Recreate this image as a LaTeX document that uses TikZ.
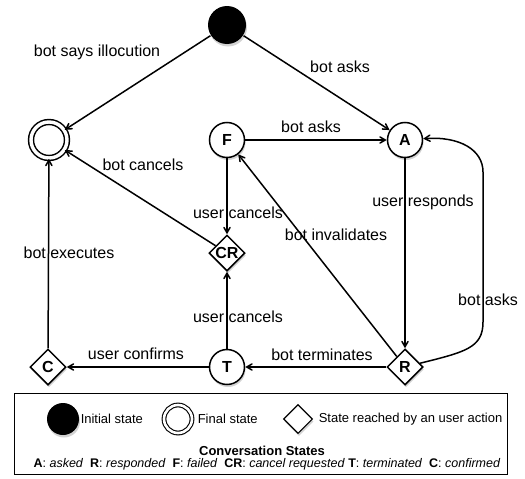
\documentclass[tikz,border=0pt]{standalone}
\usepackage{fontspec}
\setmainfont{Liberation Sans}
\usetikzlibrary{arrows,shapes.geometric,shadows}

\begin{document}
\begin{tikzpicture}[x=1pt,y=-1pt,>=angle 60,line width=1.5pt,
  shdw/.style={drop shadow={shadow xshift=1pt,shadow yshift=-2.5pt,opacity=.35}},
  state/.style={circle,draw,fill=white,minimum size=35pt,inner sep=0pt,shdw,
    font=\fontsize{16}{16}\selectfont\bfseries},
  useract/.style={diamond,draw,fill=white,minimum size=36pt,inner sep=0pt,shdw,
    font=\fontsize{16}{16}\selectfont\bfseries},
  initst/.style={circle,fill=black,minimum size=38pt,inner sep=0pt,shdw},
  finalst/.style={circle,draw,double,double distance=3.4pt,fill=white,minimum size=36pt,inner sep=0pt,shdw},
  lbl/.style={font=\fontsize{16}{16}\selectfont,inner sep=0pt},
  legtxt/.style={font=\fontsize{13}{13}\selectfont,inner sep=0pt,anchor=west}]

\useasboundingbox (0,0) rectangle (525,479);

% states
\node[initst] (init) at (227,25) {};
\node[finalst] (fin) at (49,140) {};
\node[state] (F) at (227,140) {F};
\node[state] (A) at (405,140) {A};
\node[useract] (CR) at (227,253) {CR};
\node[useract] (C) at (48,367) {C};
\node[state] (T) at (227,367) {T};
\node[useract] (R) at (405,367) {R};

\coordinate (bend1) at (483,322);
\coordinate (bend2) at (483,172);

% transitions
\draw[->] (init) -- (fin);
\draw[->] (init) -- (A);
\draw[->] (F) -- (A);
\draw[->] (F) -- (CR);
\draw[->] (CR) -- (fin);
\draw[->] (A) -- (R);
\draw[->] (R) -- (F);
\draw[->] (R) -- (T);
\draw[->] (T) -- (CR);
\draw[->] (T) -- (C);
\draw[->] (C) -- (fin);
\draw[->] (R) .. controls (465,352) and (483,348) .. (bend1) -- (bend2)
  .. controls (483,150) and (460,136) .. (A);

% labels
\node[lbl] (l1) at (97,52) {bot says illocution};
\node[lbl] (l2) at (340,67) {bot asks};
\node[lbl] (l3) at (311,127) {bot asks};
\node[lbl] (l4) at (143,165) {bot cancels};
\node[lbl] (l5) at (238,213) {user cancels};
\node[lbl] (l6) at (336,235) {bot invalidates};
\node[lbl] (l7) at (423,202) {user responds};
\node[lbl] (l8) at (69,253) {bot executes};
\node[lbl] (l9) at (238,317) {user cancels};
\node[lbl] (l10) at (488,300) {bot asks};
\node[lbl] (l11) at (136,354) {user confirms};
\node[lbl] (l12) at (322,355) {bot terminates};

% legend
\draw[line width=.7pt,fill=white] (14,393) rectangle (507,474);
\node[initst,minimum size=32pt] (linit) at (63,419) {};
\node[legtxt] (tinit) at (80,419) {Initial state};
\node[finalst,minimum size=28pt,double distance=2.6pt,line width=1.1pt] (lfin) at (178,419) {};
\node[legtxt] (tfin) at (197,419) {Final state};
\node[useract,minimum size=29pt,line width=1.1pt] (lact) at (298,419) {};
\node[legtxt] (tact) at (318,419) {State reached by an user action};
\node[font=\fontsize{13}{13}\selectfont\bfseries,inner sep=0pt] (lhead) at (262,451) {Conversation States};
\node[font=\fontsize{12.5}{13}\selectfont,inner sep=0pt] (lkey) at (267,464)
  {\textbf{A}: \textit{asked}\ \ \textbf{R}: \textit{responded}\ \ \textbf{F}: \textit{failed}\ \ \textbf{CR}: \textit{cancel requested} \textbf{T}: \textit{terminated}\ \ \textbf{C}: \textit{confirmed}};
\end{tikzpicture}
\end{document}
